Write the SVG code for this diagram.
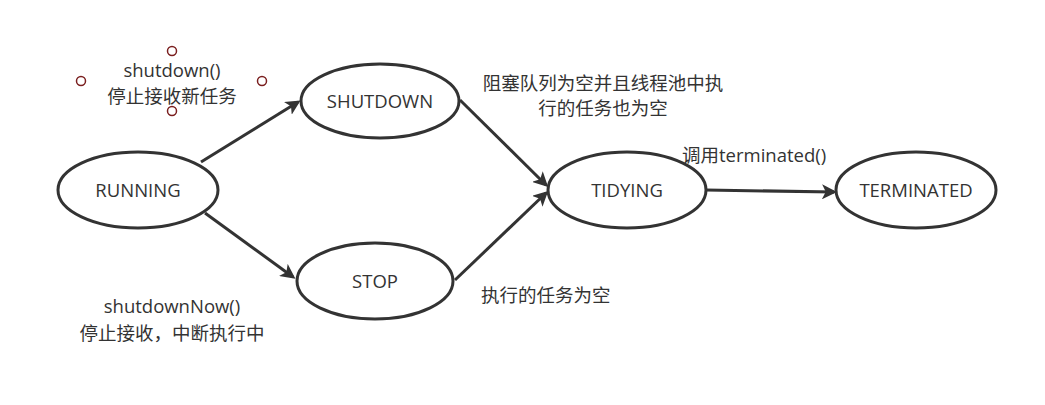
<svg xmlns="http://www.w3.org/2000/svg" width="1045" height="405" viewBox="0 0 1045 405">
<style>
.n{fill:#fff;stroke:#333;stroke-width:3}
.t{font-family:"Open Sans","Noto Sans CJK SC",sans-serif;font-size:18.5px;fill:#333}
.c{stroke:#333;stroke-width:3;fill:none;marker-end:url(#a)}
.h{fill:#fff;stroke:#7a1f1f;stroke-width:1.5}
</style>
<defs><marker id="a" viewBox="0 0 10 10" refX="8" refY="5" markerWidth="5" markerHeight="5" orient="auto" markerUnits="strokeWidth"><path d="M0,0L10,5L0,10L2.5,5Z" fill="#333"/></marker></defs>
<rect width="1045" height="405" fill="#fff"/>
<g id="connectors">
<line class="c" x1="201" y1="162" x2="298" y2="102"/>
<line class="c" x1="205" y1="213" x2="293" y2="277"/>
<line class="c" x1="460" y1="100" x2="546" y2="185"/>
<line class="c" x1="455" y1="280" x2="546" y2="193"/>
<line class="c" x1="706" y1="190" x2="834" y2="192"/>
</g>
<g id="running"><ellipse class="n" cx="138" cy="190" rx="80" ry="38"/><text class="t" x="138" y="197" text-anchor="middle">RUNNING</text></g>
<g id="shutdown"><ellipse class="n" cx="380" cy="101" rx="79" ry="37"/><text class="t" x="380" y="108" text-anchor="middle">SHUTDOWN</text></g>
<g id="stop"><ellipse class="n" cx="375" cy="281" rx="78" ry="38"/><text class="t" x="375" y="288" text-anchor="middle">STOP</text></g>
<g id="tidying"><ellipse class="n" cx="627" cy="190" rx="79" ry="38"/><text class="t" x="627" y="197" text-anchor="middle">TIDYING</text></g>
<g id="terminated"><ellipse class="n" cx="916" cy="190" rx="80" ry="38"/><text class="t" x="916" y="197" text-anchor="middle">TERMINATED</text></g>
<g id="labels">
<text class="t" x="172" y="77" text-anchor="middle">shutdown()</text>
<text class="t" x="172" y="103" text-anchor="middle">停止接收新任务</text>
<text class="t" x="603" y="90" text-anchor="middle">阻塞队列为空并且线程池中执</text>
<text class="t" x="603" y="115" text-anchor="middle">行的任务也为空</text>
<text class="t" x="682" y="162">调用terminated()</text>
<text class="t" x="481" y="302">执行的任务为空</text>
<text class="t" x="172" y="313" text-anchor="middle">shutdownNow()</text>
<text class="t" x="172" y="340" text-anchor="middle">停止接收，中断执行中</text>
</g>
<g id="handles">
<circle class="h" cx="172" cy="51" r="4.5"/><circle class="h" cx="81" cy="81" r="4.5"/><circle class="h" cx="262" cy="81" r="4.5"/><circle class="h" cx="172" cy="111" r="4.5"/>
</g>
</svg>
